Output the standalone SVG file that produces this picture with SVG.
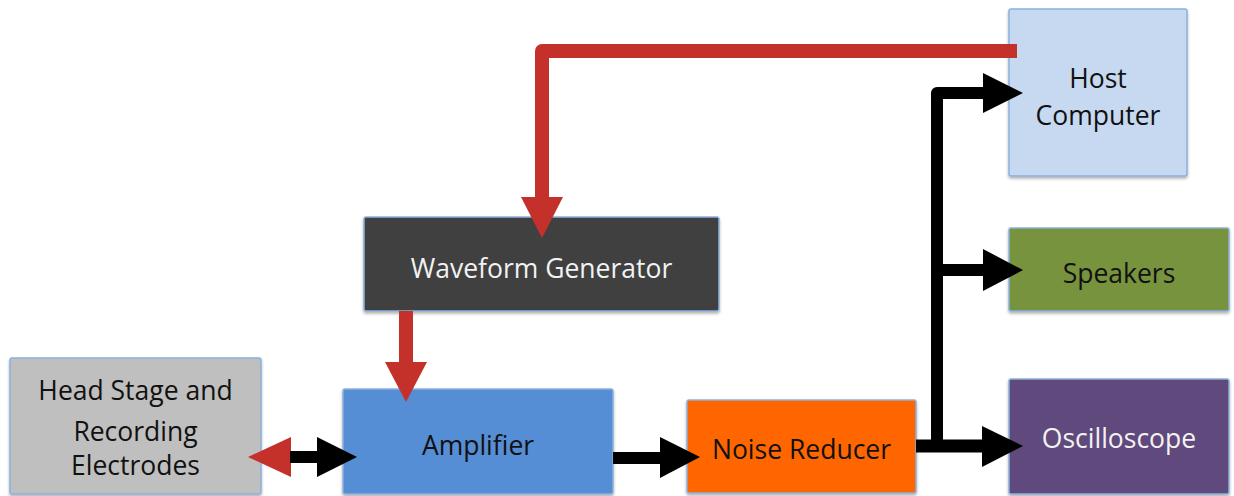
<svg xmlns="http://www.w3.org/2000/svg" width="1234" height="496" viewBox="0 0 1234 496">
<defs>
<filter id="sh" x="-5%" y="-5%" width="110%" height="115%">
<feDropShadow dx="0" dy="2" stdDeviation="1.5" flood-color="#000" flood-opacity="0.3"/>
</filter>
</defs>
<style>
.box{stroke:#8cb0dc;stroke-width:1.5;filter:url(#sh)}
.t{font-family:"Open Sans","Liberation Sans",sans-serif;font-size:26.5px;text-anchor:middle;fill:#111}
.w{fill:#f2f2f2}
.red{stroke:#c4302a;fill:none;stroke-linejoin:round}
.blk{stroke:#000;fill:none;stroke-linejoin:round}
.rh{fill:#c4302a}
.bh{fill:#000}
</style>
<rect width="1234" height="496" fill="#fff"/>
<g id="headstage">
<rect class="box" x="10" y="358" width="251" height="136" rx="2" fill="#bfbfbf"/>
<text class="t" x="135.5" y="400">Head Stage and</text>
<text class="t" x="135.5" y="441">Recording</text>
<text class="t" x="135.5" y="475">Electrodes</text>
</g>
<g id="amplifier">
<rect class="box" x="343" y="389" width="270" height="105" rx="2" fill="#558ed5"/>
<text class="t" x="478" y="455">Amplifier</text>
</g>
<g id="waveform">
<rect class="box" x="364" y="217" width="355" height="94" rx="2" fill="#404040"/>
<text class="t w" x="541.5" y="278">Waveform Generator</text>
</g>
<g id="noise">
<rect class="box" x="687" y="400" width="229" height="93" rx="2" fill="#ff6600"/>
<text class="t" x="801.5" y="459">Noise Reducer</text>
</g>
<g id="host">
<rect class="box" x="1009" y="9" width="178" height="167" rx="2" fill="#c6d9f1"/>
<text class="t" x="1098" y="88">Host</text>
<text class="t" x="1098" y="125">Computer</text>
</g>
<g id="speakers">
<rect class="box" x="1009" y="228" width="220" height="83" rx="2" fill="#77933c"/>
<text class="t" x="1119" y="283">Speakers</text>
</g>
<g id="oscilloscope">
<rect class="box" x="1009" y="379" width="220" height="115" rx="2" fill="#604a7b"/>
<text class="t w" x="1119" y="448">Oscilloscope</text>
</g>
<g id="connectors">
<path class="red" stroke-width="14" d="M1017,51 H542 V200"/>
<polygon class="rh" points="521,197 563,197 542,238"/>
<path class="red" stroke-width="14" d="M406,311 V364"/>
<polygon class="rh" points="385,362 427,362 406,402"/>
<polygon class="rh" points="248,457 291,437 291,477"/>
<path class="blk" stroke-width="12" d="M290,457 H319"/>
<polygon class="bh" points="317,437 317,477 357,457"/>
<path class="blk" stroke-width="12" d="M613,458 H662"/>
<polygon class="bh" points="660,437 660,478 700,457"/>
<path class="blk" stroke-width="13" d="M916,446 H984"/>
<polygon class="bh" points="982,426 982,467 1023,446"/>
<path class="blk" stroke-width="12" d="M937,446 V93 H985"/>
<polygon class="bh" points="983,73 983,113 1023,93"/>
<path class="blk" stroke-width="12" d="M937,270 H985"/>
<polygon class="bh" points="983,249 983,291 1023,270"/>
</g>
</svg>
